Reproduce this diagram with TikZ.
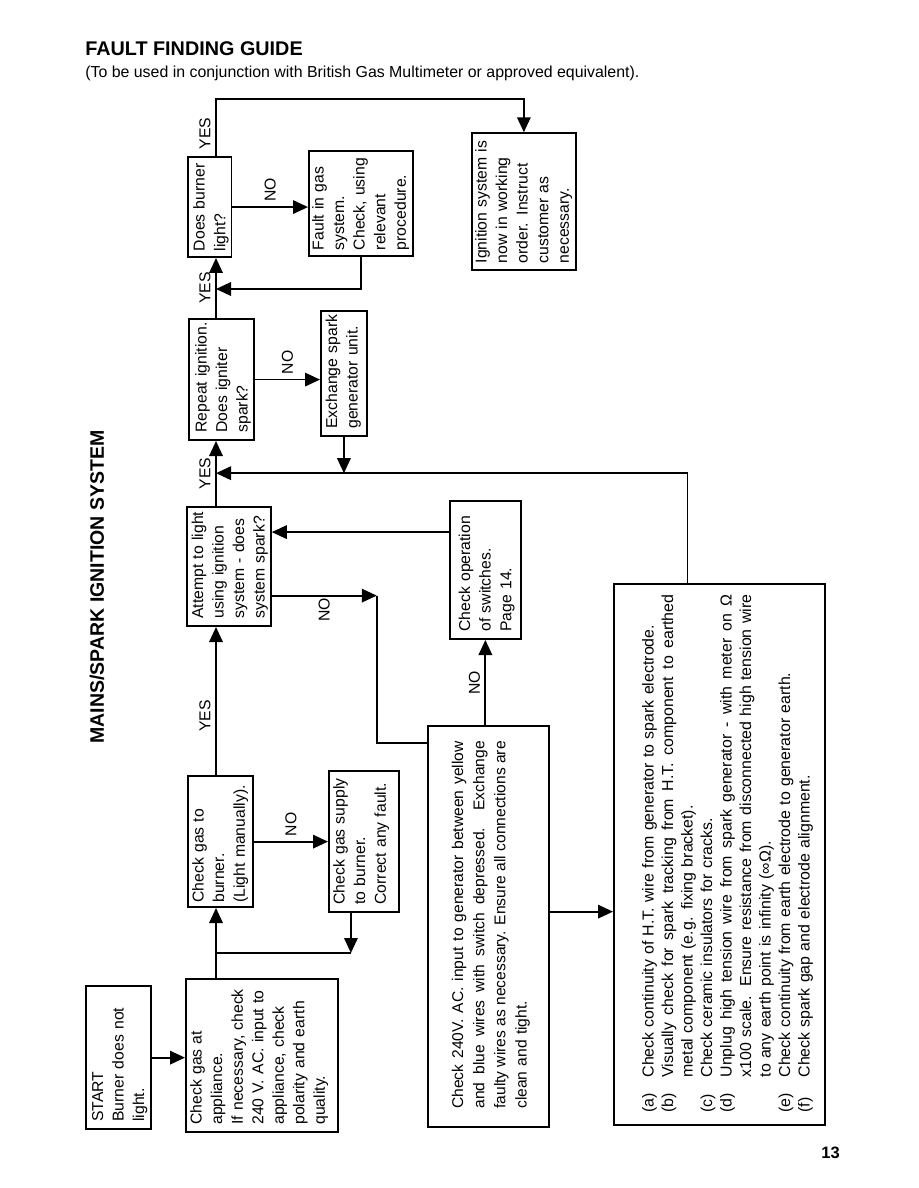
\documentclass[tikz,border=0pt]{standalone}
\usepackage{fontspec}
\setmainfont{Liberation Sans}
\usetikzlibrary{arrows.meta, calc, positioning}
\tikzset{
  box/.style={rectangle, draw=black, line width=1.2pt, anchor=north west, align=left, inner xsep=5pt, inner ysep=2pt, font=\fontsize{10.5}{13.7}\selectfont, execute at begin node={\rightskip=0pt plus 1fil minus 100pt\relax}},
  arrow/.style={line width=1.2pt, -{Triangle[length=10pt, width=9pt]}},
  wire/.style={line width=1.2pt},
  answer/.style={font=\fontsize{10.5}{12}\selectfont, inner sep=3pt}
}
\newcommand{\itemtag}[1]{\makebox[23.3pt][l]{#1}}
\newcommand{\tagline}[1]{{\spaceskip=0pt\xspaceskip=0pt\makebox[322pt][s]{#1}}}
\newcommand{\justline}[1]{{\spaceskip=0pt\xspaceskip=0pt\makebox[245pt][s]{#1}}}

\begin{document}
\begin{tikzpicture}[x=0.6667pt, y=0.6667pt]
    \useasboundingbox (0,0) rectangle (918,-1188);
    \node[anchor=base west, inner sep=0pt, font=\bfseries\fontsize{13.2}{15}\selectfont] (title) at (85,-56) {FAULT FINDING GUIDE};
    \node[anchor=base west, inner sep=0pt, font=\fontsize{10.6}{12}\selectfont] (subtitle) at (85,-78) {(To be used in conjunction with British Gas Multimeter or approved equivalent).};
    \node[anchor=base east, inner sep=0pt, font=\bfseries\fontsize{11}{13}\selectfont] (pageno) at (840,-1158) {13};

    % flowchart, turned on its side
    \begin{scope}[shift={(918,-1188)}, rotate=90, transform shape]
        \coordinate (spine) at (0,702);
        \node[font=\bfseries\fontsize{13}{15}\selectfont] (heading) at (601,821) {MAINS/SPARK IGNITION SYSTEM};

        \node (start) [box, text width=85.3pt, text height=9.5pt, text depth=29.8pt] at (58,833) {START\\Burner does not\\light.};
        \node (gasapp) [box, text width=92pt, text height=8.5pt, text depth=88.8pt] at (55,733) {Check gas at\\appliance.\\If necessary, check\\240 V. AC. input to\\appliance, check\\polarity and earth\\quality.};
        \node (gasburner) [box, inner xsep=3pt, text width=81.3pt, text height=8.5pt, text depth=30.8pt] at (280,731) {Check gas to\\burner.\\(Light manually).};
        \node (gassupply) [box, text width=84pt, text height=8.5pt, text depth=34.2pt] at (275,590) {Check gas supply\\to burner.\\Correct any fault.};
        \node (check240) [box, inner xsep=10pt, text width=247.3pt, text height=21.5pt, text depth=55.2pt, font=\fontsize{10.4}{14.1}\selectfont, execute at begin node={\leftskip=2.3pt\relax}] at (60,491) {\justline{Check 240V. AC. input to generator between yellow}\\\justline{and blue wires with switch depressed. Exchange}\\\justline{faulty wires as necessary. Ensure all connections are}\\clean and tight.};
        \node (checklist) [box, inner xsep=8.5pt, text width=343.7pt, text height=24.5pt, text depth=112.2pt, font=\fontsize{10.6}{13}\selectfont] at (62,305) {%
            \itemtag{(a)}Check continuity of H.T. wire from generator to spark electrode.\\
            \itemtag{(b)}\tagline{Visually check for spark tracking from H.T. component to earthed}\\
            \itemtag{}metal component (e.g. fixing bracket).\\
            \itemtag{(c)}Check ceramic insulators for cracks.\\
            \itemtag{(d)}\tagline{Unplug high tension wire from spark generator - with meter on Ω}\\
            \itemtag{}\tagline{x100 scale. Ensure resistance from disconnected high tension wire}\\
            \itemtag{}to any earth point is infinity (∞Ω).\\
            \itemtag{(e)}Check continuity from earth electrode to generator earth.\\
            \itemtag{(f)}Check spark gap and electrode alignment.};
        \node (attempt) [box, text width=69.3pt, text height=8.8pt, text depth=43.2pt] at (561,732) {Attempt to light\\using ignition\\system - does\\system spark?};
        \node (switches) [box, text width=82pt, text height=11.5pt, text depth=31.8pt] at (548,469) {Check operation\\of switches.\\Page 14.};
        \node (repeat) [box, text width=70.7pt, text height=9.8pt, text depth=29.6pt] at (747,730) {Repeat ignition.\\Does igniter\\spark?};
        \node (exchange) [box, text width=73.3pt, text height=8.8pt, text depth=17.9pt] at (751,598) {Exchange spark\\generator unit.};
        \node (doesburner) [box, inner xsep=4pt, text width=58.7pt, text height=9.2pt, text depth=15.9pt] at (930,731) {Does burner\\light?};
        \node (fault) [box, inner xsep=4pt, text width=62pt, text height=7.8pt, text depth=57.5pt] at (931,610) {Fault in gas\\system.\\Check, using\\relevant\\procedure.};
        \node (ignition) [box, inner xsep=4.5pt, text width=82.3pt, text height=7.8pt, text depth=57.5pt] at (917,447) {Ignition system is\\now in working\\order. Instruct\\customer as\\necessary.};

        % gas checks
        \draw[arrow] (start.south) -- (start.south |- gasapp.north);
        \draw[arrow] (gasapp.east |- spine) -- (gasburner.west |- spine);
        \draw[arrow] (gasburner.south) -- (gasburner.south |- gassupply.north) node[midway, right, answer] {NO};
        \coordinate (sup) at ($(gassupply.west)+(0,13)$);
        \draw[arrow] (sup) -- ++(-40,0) coordinate (j1);
        \draw[wire] (j1) -- (j1 |- spine);
        \draw[arrow] (gasburner.east |- spine) -- (attempt.west |- spine) node[pos=0.4, above, answer] {YES};

        % no spark
        \coordinate (att) at ($(attempt.south)+(-29,0)$);
        \draw[arrow] (att) -- ++(0,-105) coordinate (j2) node[midway, left, answer, inner sep=1pt] {NO};
        \coordinate (c240in) at ($(check240.north east)+(-18,0)$);
        \draw[wire] (j2) -| (c240in);
        \draw[arrow] (check240.east |- switches) -- (switches.west) node[midway, above, answer] {NO};
        \coordinate (sw) at ($(switches.north)+(38,0)$);
        \draw[arrow] (sw) -- (sw |- attempt.south);
        \coordinate (c240out) at ($(check240.south)+(15,0)$);
        \draw[arrow] (c240out) -- (c240out |- checklist.north);
        \draw[arrow] ($(checklist.east)+(0,32)$) -- ++(110,0) coordinate (ret) -- (ret |- spine);

        % spark, then burner
        \draw[arrow] (attempt.east |- spine) -- (repeat.west |- spine) node[midway, above, answer] {YES};
        \draw[arrow] (repeat.south) -- (repeat.south |- exchange.north) node[midway, right, answer] {NO};
        \draw[arrow] (exchange.west) -- (exchange.west -| ret);
        \draw[arrow] (repeat.east |- spine) -- (doesburner.west |- spine) node[midway, above, answer] {YES};
        \draw[arrow] (doesburner.south) -- (doesburner.south |- fault.north) node[midway, right, answer] {NO};
        \draw[arrow] (fault.west) -- ++(-32,0) coordinate (f1) -- (f1 |- spine);
        \draw[arrow] (doesburner.east |- spine) -- ++(57,0) node[pos=0.4, above, answer] {YES} |- (ignition.east);
    \end{scope}
\end{tikzpicture}
\end{document}
